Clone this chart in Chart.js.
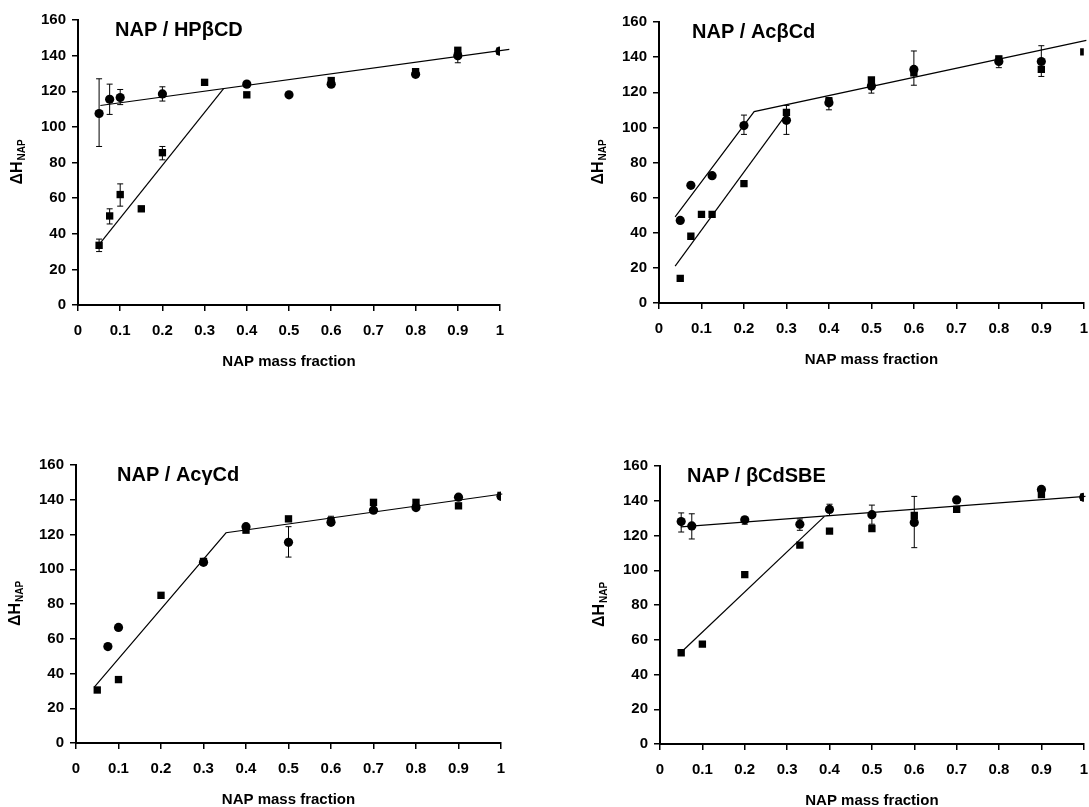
<!DOCTYPE html>
<html>
<head>
<meta charset="utf-8">
<script src="https://cdn.jsdelivr.net/npm/chart.js@4.4.1/dist/chart.umd.min.js"></script>
<style>
  body { margin: 0; background: #fff; }
  canvas { position: absolute; }
</style>
</head>
<body>
<canvas id="cA" width="545" height="400" style="left:0;top:0"></canvas>
<canvas id="cB" width="544" height="400" style="left:545px;top:0"></canvas>
<canvas id="cC" width="545" height="387" style="left:0;top:420px"></canvas>
<canvas id="cD" width="544" height="387" style="left:545px;top:420px"></canvas>
<script>
// NAP / HPbCD
const hpCircX = [0.05, 0.075, 0.1, 0.2, 0.4, 0.5, 0.6, 0.8, 0.9, 1.0];
const hpCircY = [107.5, 115.5, 116.5, 118.5, 124, 118, 124, 129.5, 140, 142.5];
const hpCircLo = [89, 107, 112.5, 114.5, null, null, null, null, 136, null];
const hpCircHi = [127, 124, 121, 122.5, null, null, null, null, 143.5, null];
const hpSqX = [0.05, 0.075, 0.1, 0.15, 0.2, 0.3, 0.4, 0.6, 0.8, 0.9, 1.0];
const hpSqY = [33.5, 50, 62, 54, 85.5, 125, 118, 126, 131, 143, 142.5];
const hpSqLo = [30, 45.5, 55.5, null, 81.5, null, null, null, null, null, null];
const hpSqHi = [37, 54, 68, null, 89, null, null, null, null, null, null];
const hpFit1X = [0.053, 1.022];
const hpFit1Y = [112, 143.5];
const hpFit2X = [0.047, 0.345];
const hpFit2Y = [33, 121.5];

// NAP / AcbCd
const acbCircX = [0.05, 0.075, 0.125, 0.2, 0.3, 0.4, 0.5, 0.6, 0.8, 0.9];
const acbCircY = [47, 67, 72.5, 101, 104, 114, 123.5, 133, 137.5, 137.5];
const acbCircLo = [null, null, null, 96, 96, 110, 119.5, 124, 134, 129];
const acbCircHi = [null, null, null, 107, 112.5, 117, 126.5, 143.5, 140.5, 146.5];
const acbSqX = [0.05, 0.075, 0.1, 0.125, 0.2, 0.3, 0.4, 0.5, 0.6, 0.8, 0.9, 1.0];
const acbSqY = [14, 38, 50.5, 50.5, 68, 108.5, 115, 127, 131, 139, 133, 143];
const acbFit1X = [0.038, 0.224, 1.006];
const acbFit1Y = [49, 109, 149.5];
const acbFit2X = [0.038, 0.298];
const acbFit2Y = [21, 107];

// NAP / AcgCd
const acgCircX = [0.075, 0.1, 0.3, 0.4, 0.5, 0.6, 0.7, 0.8, 0.9, 1.0];
const acgCircY = [55.5, 66.5, 104, 124.5, 115.5, 127, 134, 135.5, 141.5, 142];
const acgCircLo = [null, null, null, null, 107, null, null, null, null, null];
const acgCircHi = [null, null, null, null, 124.5, null, null, null, null, null];
const acgSqX = [0.05, 0.1, 0.2, 0.3, 0.4, 0.5, 0.6, 0.7, 0.8, 0.9, 1.0];
const acgSqY = [30.5, 36.5, 85, 104.5, 122.5, 129, 128, 138.5, 138.5, 136.5, 142.5];
const acgSqLo = [null, null, null, null, null, null, 125.5, null, null, null, null];
const acgSqHi = [null, null, null, null, null, null, 130.5, null, null, null, null];
const acgFitX = [0.0425, 0.353, 1.003];
const acgFitY = [32, 121, 143.3];

// NAP / bCdSBE
const sbeCircX = [0.05, 0.075, 0.2, 0.33, 0.4, 0.5, 0.6, 0.7, 0.9, 1.0];
const sbeCircY = [128, 125.5, 129, 126.5, 135, 132, 127.5, 140.5, 146.5, 142];
const sbeCircLo = [122, 118, 126.5, 123, 131.5, 126.5, 113, null, null, null];
const sbeCircHi = [133, 132.5, 130.5, 129.5, 138, 137.5, 142.5, null, null, null];
const sbeSqX = [0.05, 0.1, 0.2, 0.33, 0.4, 0.5, 0.6, 0.7, 0.9, 1.0];
const sbeSqY = [52.5, 57.5, 97.5, 114.5, 122.5, 124, 131.5, 135, 143.5, 142];
const sbeFit1X = [0.049, 1.004];
const sbeFit1Y = [125, 142.5];
const sbeFit2X = [0.053, 0.388];
const sbeFit2Y = [53.5, 131];

const panelTitles = ['NAP / HP\u03b2CD', 'NAP / Ac\u03b2Cd', 'NAP / Ac\u03b3Cd', 'NAP / \u03b2CdSBE'];
const xTitle = 'NAP mass fraction';
const yTitleMain = '\u0394H';
const yTitleSub = 'NAP';

Chart.defaults.font.family = '"Liberation Sans", Arial, sans-serif';
Chart.defaults.color = '#000';

const pts = (xs, ys) => xs.map((x, i) => ({ x: x, y: ys[i] }));

function circles(xs, ys, lo, hi) {
  return { data: pts(xs, ys), pointStyle: 'circle', pointRadius: 4.6,
    backgroundColor: '#000', borderWidth: 0, errLo: lo, errHi: hi };
}
function squares(xs, ys, lo, hi) {
  return { data: pts(xs, ys), pointStyle: 'rect', pointRadius: 5.2,
    backgroundColor: '#000', borderWidth: 0, errLo: lo, errHi: hi };
}
function fit(xs, ys) {
  return { data: pts(xs, ys), showLine: true, pointRadius: 0, borderColor: '#000',
    borderWidth: 1.2, clip: false };
}

// error bars + texts
const extras = {
  id: 'extras',
  beforeDatasetsDraw(chart) {
    const { ctx, scales: { x, y } } = chart;
    ctx.save();
    ctx.strokeStyle = '#000';
    ctx.lineWidth = 1;
    chart.data.datasets.forEach(ds => {
      if (!ds.errLo) return;
      ds.data.forEach((p, i) => {
        if (ds.errLo[i] == null) return;
        const px = x.getPixelForValue(p.x);
        const a = y.getPixelForValue(ds.errLo[i]);
        const b = y.getPixelForValue(ds.errHi[i]);
        ctx.beginPath();
        ctx.moveTo(px, a); ctx.lineTo(px, b);
        ctx.moveTo(px - 3, a); ctx.lineTo(px + 3, a);
        ctx.moveTo(px - 3, b); ctx.lineTo(px + 3, b);
        ctx.stroke();
      });
    });
    ctx.restore();
  },
  afterDraw(chart) {
    const { ctx, chartArea: area } = chart;
    const o = chart.options.plugins.extras;
    ctx.save();
    ctx.fillStyle = '#000';
    ctx.textBaseline = 'middle';
    ctx.font = 'bold 20px "Liberation Sans", Arial';
    ctx.textAlign = 'left';
    ctx.fillText(o.title, area.left + o.titleDx, area.top + 10);

    ctx.font = 'bold 15px "Liberation Sans", Arial';
    ctx.textAlign = 'center';
    ctx.fillText(xTitle, (area.left + area.right) / 2, area.bottom + 57);

    // rotated y title with subscript
    ctx.translate(area.left - 60, (area.top + area.bottom) / 2);
    ctx.rotate(-Math.PI / 2);
    ctx.textAlign = 'left';
    ctx.font = 'bold 16px "Liberation Sans", Arial';
    const w1 = ctx.measureText(yTitleMain).width;
    ctx.font = 'bold 10px "Liberation Sans", Arial';
    const w2 = ctx.measureText(yTitleSub).width;
    const start = -(w1 + w2) / 2;
    ctx.font = 'bold 16px "Liberation Sans", Arial';
    ctx.fillText(yTitleMain, start, 0);
    ctx.font = 'bold 10px "Liberation Sans", Arial';
    ctx.fillText(yTitleSub, start + w1 + 1, 4);
    ctx.restore();
  }
};

function makeChart(id, datasets, lay) {
  new Chart(document.getElementById(id), {
    type: 'scatter',
    data: { datasets: datasets },
    plugins: [extras],
    options: {
      responsive: false,
      devicePixelRatio: 1,
      animation: false,
      events: [],
      layout: { padding: { left: 0, top: lay.top, right: lay.right, bottom: 0 } },
      plugins: {
        legend: { display: false },
        tooltip: { enabled: false },
        extras: { title: lay.title, titleDx: lay.titleDx }
      },
      scales: {
        x: {
          type: 'linear', min: 0, max: 1,
          border: { color: '#000', width: 2 },
          grid: { drawOnChartArea: false, color: '#000', lineWidth: 1.5, tickLength: 6 },
          ticks: { stepSize: 0.1, padding: 11, font: { size: 15, weight: 'bold' },
            maxRotation: 0, autoSkip: false,
            callback: v => String(Math.round(v * 10) / 10) },
          afterFit: s => { s.height = lay.xh; s.paddingLeft = 0; s.paddingRight = 0; }
        },
        y: {
          min: 0, max: 160,
          border: { color: '#000', width: 2 },
          grid: { drawOnChartArea: false, color: '#000', lineWidth: 1.5, tickLength: 6 },
          ticks: { stepSize: 20, padding: 6, font: { size: 15, weight: 'bold' } },
          afterFit: s => { s.width = lay.yw; s.paddingTop = 0; s.paddingBottom = 0; }
        }
      }
    }
  });
}

makeChart('cA', [
  fit(hpFit1X, hpFit1Y), fit(hpFit2X, hpFit2Y),
  squares(hpSqX, hpSqY, hpSqLo, hpSqHi),
  circles(hpCircX, hpCircY, hpCircLo, hpCircHi)
], { top: 20, right: 45, xh: 95, yw: 78, title: panelTitles[0], titleDx: 37 });

makeChart('cB', [
  fit(acbFit1X, acbFit1Y), fit(acbFit2X, acbFit2Y),
  circles(acbCircX, acbCircY, acbCircLo, acbCircHi),
  squares(acbSqX, acbSqY, null, null)
], { top: 22, right: 2, xh: 97, yw: 114, title: panelTitles[1], titleDx: 33 });

makeChart('cC', [
  fit(acgFitX, acgFitY),
  squares(acgSqX, acgSqY, acgSqLo, acgSqHi),
  circles(acgCircX, acgCircY, acgCircLo, acgCircHi)
], { top: 45, right: 44, xh: 64, yw: 76, title: panelTitles[2], titleDx: 41 });

makeChart('cD', [
  fit(sbeFit1X, sbeFit1Y), fit(sbeFit2X, sbeFit2Y),
  squares(sbeSqX, sbeSqY, null, null),
  circles(sbeCircX, sbeCircY, sbeCircLo, sbeCircHi)
], { top: 46, right: 2, xh: 63, yw: 115, title: panelTitles[3], titleDx: 27 });
</script>
</body>
</html>
